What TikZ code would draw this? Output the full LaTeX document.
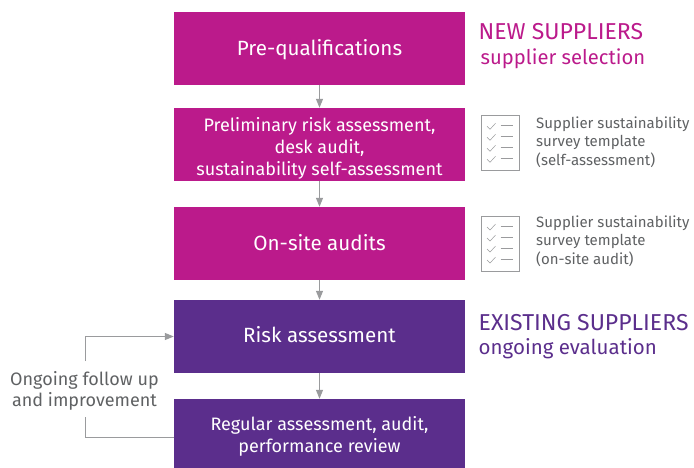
\documentclass[tikz,border=0pt]{standalone}
\usepackage{fontspec}
\setmainfont{Fira Sans}
\usetikzlibrary{arrows.meta,calc}
\definecolor{mag}{HTML}{BB1A8B}
\definecolor{pur}{HTML}{5B2E8C}
\definecolor{gtxt}{HTML}{5F6163}
\definecolor{gln}{HTML}{9A9B9D}
\newcommand{\bigline}[2]{\raisebox{#1pt}[0pt][0pt]{\fontsize{20.6}{24}\selectfont #2}}
\newcommand{\smallines}[2]{\raisebox{#1pt}[0pt][0pt]{\fontsize{18}{22}\selectfont\begin{tabular}[t]{@{}c@{}}#2\end{tabular}}}
\tikzset{
 x=1pt,y=1pt,
 flow/.style={minimum width=291pt,text=white,inner sep=0pt,align=center},
 magbox/.style={flow,fill=mag},
 purbox/.style={flow,fill=pur},
 conn/.style={draw=gln,line width=1.2pt,-{Triangle[length=9pt,width=7pt,fill=gln]}},
 plainline/.style={draw=gln,line width=1.2pt},
 side/.style={anchor=west,inner sep=0pt,align=left,text=gtxt,font=\fontsize{15}{18.4}\selectfont},
 caphead/.style={anchor=base west,inner sep=0pt,font=\fontsize{23}{25}\selectfont},
 lowhead/.style={anchor=base west,inner sep=0pt,font=\fontsize{20.2}{25}\selectfont},
 lbl/.style={inner sep=0pt,align=center,text=gtxt,font=\fontsize{18}{21}\selectfont},
 icon/.style={draw=gln,line width=.9pt,fill=white,minimum width=38pt,minimum height=55pt,inner sep=0pt},
 tick/.style={draw=gln,line width=.5pt},
}
\newcommand{\checklist}[1]{%
 \foreach \k in {0,1,2,3}{
  \draw[tick] ($(#1.north west)+(6.5,-11-11*\k)$) -- ++(3,-3) -- ++(5.5,6);
  \draw[tick] ($(#1.north west)+(20,-10-11*\k)$) -- ++(12,0);
 }}
\begin{document}
\begin{tikzpicture}
\useasboundingbox (0,0) rectangle (694,-468);
\node[magbox,minimum height=73pt] (a) at (319.5,-48.5) {\bigline{-7.5}{Pre-qualifications}};
\node[magbox,minimum height=73pt] (b) at (319.5,-144.5) {\smallines{12.5}{Preliminary risk assessment,\\desk audit,\\sustainability self-assessment}};
\node[magbox,minimum height=73pt] (c) at (319.5,-243.5) {\bigline{-7.5}{On-site audits}};
\node[purbox,minimum height=73pt] (d) at (319.5,-336.5) {\bigline{-5.5}{Risk assessment}};
\node[purbox,minimum height=69pt] (e) at (319.5,-433.5) {\smallines{3.5}{Regular assessment, audit,\\performance review}};
\draw[conn] (a) -- (b);
\draw[conn] (b) -- (c);
\draw[conn] (c) -- (d);
\draw[conn] (d) -- (e);
\node[lbl] (l) at (84.5,-391) {Ongoing follow up\\and improvement};
\coordinate (dw) at (d.west |- 0,-336.5);
\coordinate (ew) at (e.west |- 0,-437.5);
\coordinate (lt) at (85.5,-361);
\coordinate (lb) at (85.5,-417);
\draw[conn] (lt) |- (dw);
\draw[plainline] (lb) |- (ew);
\node[caphead,text=mag] (h1) at (478.5,-40) {NEW SUPPLIERS};
\node[lowhead,text=mag] (h1b) at (480.5,-65) {supplier selection};
\node[caphead,text=pur] (h2) at (478.5,-330) {EXISTING SUPPLIERS};
\node[lowhead,text=pur,font=\fontsize{20.5}{25}\selectfont] (h2b) at (478.5,-354) {ongoing evaluation};
\node[icon] (i1) at (500,-143.2) {};
\node[icon] (i2) at (500,-244) {};
\checklist{i1}
\checklist{i2}
\node[side] (s1) at (536,-142) {Supplier sustainability\\survey template\\(self-assessment)};
\node[side] (s2) at (536,-241) {Supplier sustainability\\survey template\\(on-site audit)};
\end{tikzpicture}
\end{document}
